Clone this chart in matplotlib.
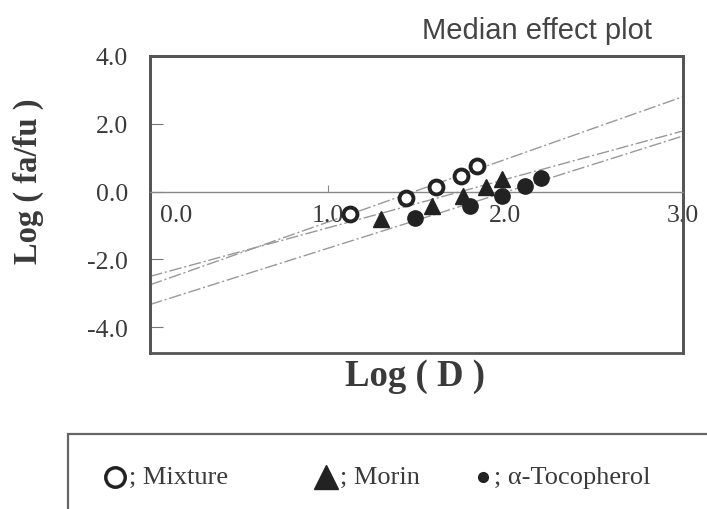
import matplotlib
matplotlib.use("Agg")
import matplotlib.pyplot as plt
from matplotlib.patches import Rectangle
from matplotlib.lines import Line2D
import matplotlib.transforms as mtransforms

# log(D) and log(fa/fu) for each treatment
mix_logd = [1.125, 1.44, 1.61, 1.75, 1.84]
mix_logf = [-0.66, -0.19, 0.13, 0.47, 0.77]
morin_logd = [1.30, 1.59, 1.76, 1.89, 1.98]
morin_logf = [-0.81, -0.41, -0.12, 0.13, 0.37]
toco_logd = [1.49, 1.80, 1.98, 2.11, 2.20]
toco_logf = [-0.78, -0.41, -0.14, 0.18, 0.40]

# median effect regression lines: slope m and intercept
slopes = [1.85, 1.43, 1.657]
intercepts = [-2.75, -2.50, -3.33]

xticks = [0.0, 1.0, 2.0, 3.0]
yticks = [4.0, 2.0, 0.0, -2.0, -4.0]

W, H = 707, 510
fig = plt.figure(figsize=(W / 100, H / 100), dpi=100)
ax = fig.add_axes([150 / W, 1 - 354 / H, 533 / W, 297 / H])

serif = "Liberation Serif"
txt = "#3a3a3a"

for m, b in zip(slopes, intercepts):
    ax.axline((0, b), slope=m, color="#999999", lw=1.0,
              ls=(0, (9, 2, 1.5, 2)), zorder=1)

ax.plot(mix_logd, mix_logf, ls="none", marker="o", ms=10, mfc="white",
        mec="#222222", mew=2.8, zorder=3)
ax.plot(morin_logd, morin_logf, ls="none", marker="^", ms=12,
        color="#222222", zorder=3)
ax.plot(toco_logd, toco_logf, ls="none", marker="o", ms=11,
        color="#222222", zorder=3)

ax.set_xlim(0, 3)
ax.set_ylim(-4.76, 4.0)

# frame
for side in ["left", "right", "top"]:
    ax.spines[side].set_color("#555555")
    ax.spines[side].set_linewidth(2)
ax.spines["bottom"].set_position(("data", 0))
ax.spines["bottom"].set_color("#888888")
ax.spines["bottom"].set_linewidth(1)
ax.add_patch(Rectangle((0, 0), 1, 1, transform=ax.transAxes, fill=False,
                       ec="#555555", lw=2, clip_on=False, zorder=0))

ax.set_xticks(xticks)
ax.set_xticklabels([f"{v:.1f}" for v in xticks])
ax.tick_params(axis="x", direction="in", length=5, color="#888888",
               pad=9, labelsize=18.5, labelcolor=txt)
ax.set_yticks(yticks)
ax.set_yticklabels([f"{v:.1f}" for v in yticks])
ax.tick_params(axis="y", direction="in", length=9, color="#777777",
               pad=16, labelsize=18.5, labelcolor=txt)
for lab in ax.get_xticklabels() + ax.get_yticklabels():
    lab.set_fontfamily(serif)
first = ax.get_xticklabels()[0]
first.set_ha("left")
first.set_transform(first.get_transform() +
                    mtransforms.ScaledTranslation(10 / 100, 0, fig.dpi_scale_trans))

fig.text(537 / W, 1 - 31 / H, "Median effect plot", ha="center", va="center",
         fontsize=21, family="Liberation Sans", color="#444444")
fig.text(28 / W, 1 - 181 / H, "Log ( fa/fu )", rotation=90, ha="center",
         va="center", fontsize=23.5, fontweight="bold", family=serif, color=txt)
fig.text(415 / W, 1 - 376 / H, "Log ( D )", ha="center", va="center",
         fontsize=26.5, fontweight="bold", family=serif, color=txt)

# key box below the plot
fig.patches.append(Rectangle((68 / W, -0.1), 0.95, 1 - 435 / H + 0.1,
                             transform=fig.transFigure, fill=False,
                             ec="#666666", lw=1.6))
ky = 1 - 478 / H
fig.add_artist(Line2D([115 / W], [ky], marker="o", ms=14, mfc="white",
                      mec="#222222", mew=2.5, ls="none"))
fig.text(129 / W, ky, "; Mixture", ha="left", va="center", fontsize=19,
         family=serif, color=txt)
fig.add_artist(Line2D([326 / W], [ky], marker="^", ms=17, color="#222222",
                      ls="none"))
fig.text(340 / W, ky, "; Morin", ha="left", va="center", fontsize=19,
         family=serif, color=txt)
fig.add_artist(Line2D([483 / W], [ky], marker="o", ms=7, color="#222222",
                      ls="none"))
fig.text(494 / W, ky, "; \u03b1-Tocopherol", ha="left", va="center",
         fontsize=19, family=serif, color=txt)

fig.savefig("out.png", dpi=100)
